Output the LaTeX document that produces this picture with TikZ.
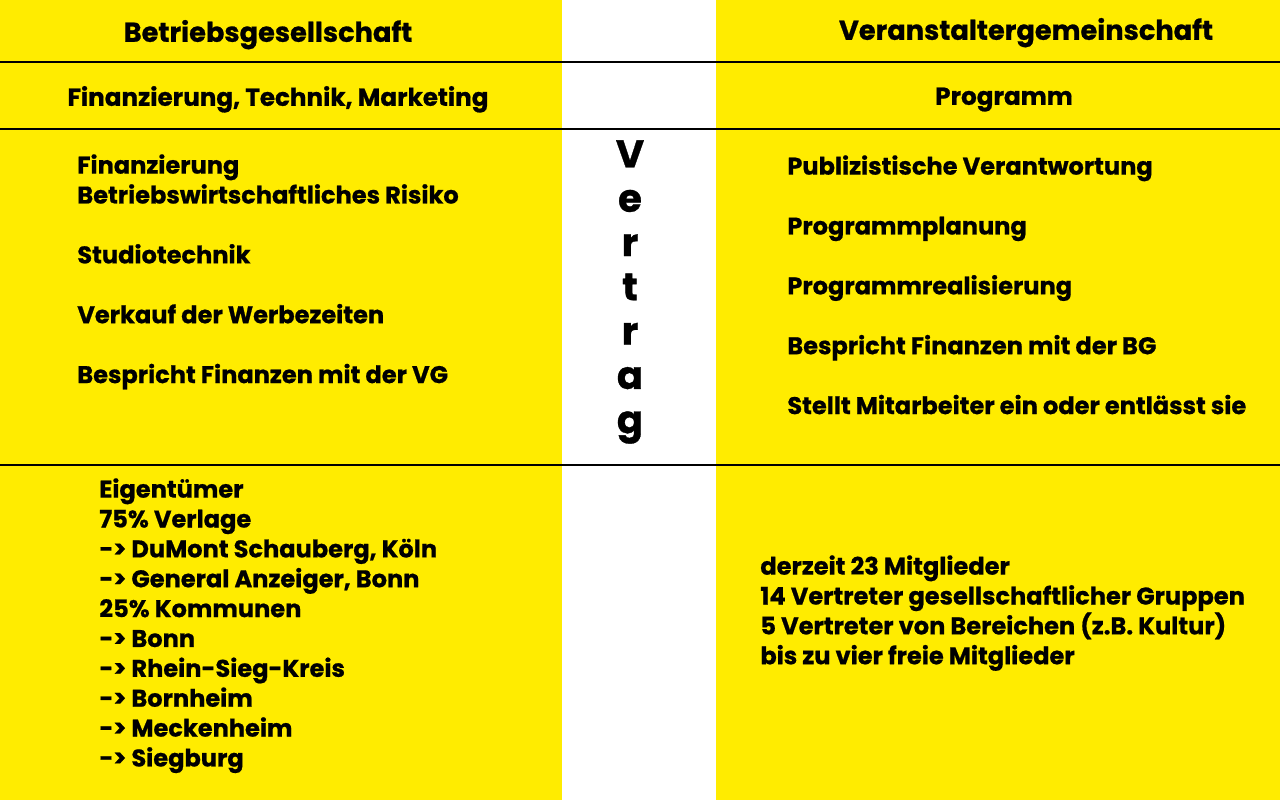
\documentclass[tikz,border=0pt]{standalone}
\usepackage{fontspec}
\setmainfont{Poppins}[BoldFeatures={FakeBold=0.8}]
\usepackage{tikz}
\usetikzlibrary{positioning}
\definecolor{vgyellow}{HTML}{FFEC00}

\tikzset{
    txt/.style={font=\bfseries\fontsize{13.7}{17}\selectfont, align=left, inner sep=0pt},
    head/.style={font=\bfseries\fontsize{15.5}{18}\selectfont, inner sep=0pt, anchor=mid},
    sub/.style={font=\bfseries\fontsize{14}{17}\selectfont, inner sep=0pt, anchor=mid},
    rule/.style={line width=1.1pt}
}

\begin{document}
\begin{tikzpicture}[x=0.02cm, y=-0.02cm]
    \useasboundingbox (0,0) rectangle (1280,800);
    % columns
    \fill[vgyellow] (0,0) rectangle (562,800);
    \fill[vgyellow] (716,0) rectangle (1280,800);
    \draw[rule] (0,62) -- (1280,62);
    \draw[rule] (0,129) -- (1280,129);
    \draw[rule] (0,465) -- (1280,465);

    % headings
    \node (bg) [head] at (268,37) {Betriebsgesellschaft};
    \node (vg) [head] at (1026,35) {Veranstaltergemeinschaft};
    \node (bgtask) [sub] at (278,101) {Finanzierung, Technik, Marketing};
    \node (vgtask) [sub] at (1004,100) {Programm};

    % middle row
    \node (bglist) [txt, anchor=north west] at (77,154) {Finanzierung\\Betriebswirtschaftliches Risiko\\[0.6cm]Studiotechnik\\[0.6cm]Verkauf der Werbezeiten\\[0.6cm]Bespricht Finanzen mit der VG};
    \node (vertrag) [font=\bfseries\fontsize{22}{25.2}\selectfont, align=center, inner sep=0pt, anchor=north] at (630,140) {V\\e\\r\\t\\r\\a\\g};
    \node (vglist) [txt, anchor=north west] at (787,155) {Publizistische Verantwortung\\[0.6cm]Programmplanung\\[0.6cm]Programmrealisierung\\[0.6cm]Bespricht Finanzen mit der BG\\[0.6cm]Stellt Mitarbeiter ein oder entlässt sie};

    % bottom row
    \node (owner) [txt, anchor=north west] at (99,478) {Eigentümer\\75\% Verlage\\-> DuMont Schauberg, Köln\\-> General Anzeiger, Bonn\\25\% Kommunen\\-> Bonn\\-> Rhein-Sieg-Kreis\\-> Bornheim\\-> Meckenheim\\-> Siegburg};
    \node (members) [txt, anchor=north west] at (760,555) {derzeit 23 Mitglieder\\14 Vertreter gesellschaftlicher Gruppen\\5 Vertreter von Bereichen (z.B. Kultur)\\bis zu vier freie Mitglieder};
\end{tikzpicture}
\end{document}
